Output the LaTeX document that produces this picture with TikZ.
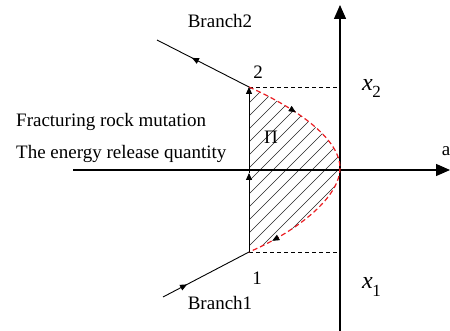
\documentclass[tikz,border=0pt]{standalone}
\usepackage{fontspec}
\setmainfont{Liberation Serif}
\usepackage{tikz}
\usetikzlibrary{arrows.meta,decorations.markings}
\definecolor{curvered}{RGB}{235,30,35}
\newcommand{\xlab}[1]{{\fontsize{24}{26}\selectfont\textit{x}}\kern-0.5pt\raisebox{-7pt}{\fontsize{17}{19}\selectfont #1}}

\tikzset{
  axis/.style={line width=1.4pt,-{Triangle[length=14pt,width=12pt]}},
  edge/.style={line width=0.9pt},
  guide/.style={line width=0.9pt,dash pattern=on 4pt off 3pt},
  redpath/.style={curvered,line width=1.2pt,dash pattern=on 5pt off 3pt},
  hatch/.style={line width=0.65pt,black!85},
  tip/.style={-{Triangle[length=7pt,width=6pt]}},
  midarr/.style={postaction={decorate,decoration={markings,
      mark=at position #1 with {\arrow{Triangle[length=7pt,width=6pt]}}}}},
  lbl/.style={inner sep=0pt,font=\fontsize{19}{22}\selectfont}
}

\begin{document}
\begin{tikzpicture}[x=1pt,y=-1pt]
  \useasboundingbox (0,0) rectangle (450,331);
  % key points (pixel grid, y grows downward)
  \coordinate (p2) at (249,87);
  \coordinate (p1) at (249,252);
  \coordinate (m) at (249,173);
  \coordinate (vtx) at (340,168);
  \coordinate (q2) at (340,87);
  \coordinate (q1) at (340,252);
  \coordinate (b2) at (157,40);
  \coordinate (b1) at (163,297);
  \coordinate (xl) at (73,170);
  \coordinate (xr) at (450,170);
  \coordinate (yb) at (340,331);
  \coordinate (yt) at (340,5);
  % hatched region between segment 1-2 and the red curve
  \begin{scope}
    \clip (p1) -- (p2) .. controls (300,110) and (340,140) .. (vtx)
      .. controls (340,196) and (300,230) .. (p1) -- cycle;
    \foreach \k in {0,...,22}{
      \draw[hatch] (249,90+13*\k) -- (349,-10+13*\k);}
  \end{scope}
  % axes
  \draw[axis] (xl) -- (xr);
  \draw[axis] (yb) -- (yt);
  % dashed guides to the x2 / x1 levels
  \draw[guide] (p2) -- (q2);
  \draw[guide] (p1) -- (q1);
  % red dashed return curve 2 -> 1
  \draw[redpath] (p2) .. controls (300,110) and (340,140) .. (vtx);
  \draw[redpath] (vtx) .. controls (340,196) and (300,230) .. (p1);
  \path[midarr=0.42] (p2) .. controls (300,110) and (340,140) .. (vtx);
  \path[midarr=0.8] (vtx) .. controls (340,196) and (300,230) .. (p1);
  % jump 1 -> 2
  \draw[edge,tip] (p1) -- (m);
  \draw[edge,tip] (m) -- (p2);
  % branches
  \draw[edge,midarr=0.62] (p2) -- (b2);
  \draw[edge,midarr=0.28] (b1) -- (p1);
  % labels
  \node[lbl,anchor=base] (br2) at (220,28) {Branch2};
  \node[lbl,anchor=base] (br1) at (220,309) {Branch1};
  \node[lbl,anchor=base west] (txt1) at (16,127) {Fracturing rock mutation};
  \node[lbl,anchor=base west] (txt2) at (16,159) {The energy release quantity};
  \node[lbl] (n2) at (258,72) {2};
  \node[lbl] (n1) at (257,278) {1};
  \node[lbl] (pi) at (271,137) {Π};
  \node[lbl,anchor=base west] (x2) at (362,91) {\xlab{2}};
  \node[lbl,anchor=base west] (x1) at (362,289) {\xlab{1}};
  \node[lbl] (alab) at (446,151) {a};
\end{tikzpicture}
\end{document}
